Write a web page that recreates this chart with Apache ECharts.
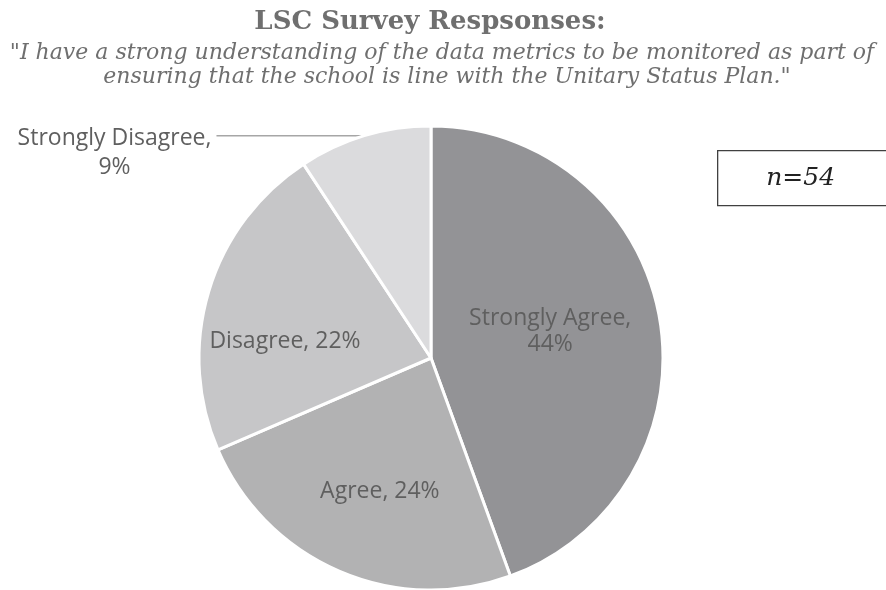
<!DOCTYPE html>
<html>
<head>
<meta charset="utf-8">
<title>LSC Survey Respsonses</title>
<script src="https://cdn.jsdelivr.net/npm/echarts@6/dist/echarts.min.js"></script>
<style>
  html, body { margin: 0; padding: 0; background: #ffffff; }
  #chart { width: 886px; height: 590px; }
</style>
</head>
<body>
<div id="chart"></div>
<script>
// Survey responses (n = 54)
const categories = ['Strongly Agree', 'Agree', 'Disagree', 'Strongly Disagree'];
const counts = [24, 13, 12, 5];
const sliceColors = ['#939396', '#b2b2b3', '#c6c6c8', '#dbdbdd'];

const titleText = 'LSC Survey Respsonses:';
const subtitleLines = [
  '"I have a strong understanding of the data metrics to be monitored as part of',
  'ensuring that the school is line with the Unitary Status Plan."'
];
const sampleNote = 'n=54';

const labelFont = '"Open Sans", "Noto Sans", sans-serif';
const serifFont = 'Georgia, "DejaVu Serif", serif';
const textGrey = '#6f6f6f';

const total = counts.reduce((a, b) => a + b, 0);
const pct = (v) => Math.round(v / total * 100) + '%';

// per-slice label placement tweaks
const labelOffsets = [[2, -6], [-4, 24], [-32, 18], [0, 0]];

const pieData = categories.map((name, i) => {
  const item = {
    name: name,
    value: counts[i],
    itemStyle: { color: sliceColors[i] }
  };
  if (i < 3) {
    item.label = {
      position: 'inside',
      offset: labelOffsets[i],
      formatter: (p) => i === 0 ? p.name + ',\n' + pct(p.value) : p.name + ', ' + pct(p.value)
    };
  } else {
    item.label = {
      position: 'outside',
      formatter: (p) => '{a|' + p.name + ',}\n{a|' + pct(p.value) + '}',
      rich: {
        a: { align: 'center', fontSize: 23, color: '#5f5f5f', fontFamily: labelFont, lineHeight: 29 }
      }
    };
    item.labelLine = {
      show: true,
      length: 0,
      length2: 148,
      lineStyle: { color: '#a6a6a6', width: 1.3 }
    };
  }
  return item;
});

const chart = echarts.init(document.getElementById('chart'));
chart.setOption({
  backgroundColor: '#ffffff',
  animation: false,
  series: [{
    type: 'pie',
    center: [431, 358],
    radius: 232,
    startAngle: 90,
    clockwise: true,
    avoidLabelOverlap: false,
    itemStyle: { borderColor: '#ffffff', borderWidth: 3 },
    label: {
      fontFamily: labelFont,
      fontSize: 23,
      color: '#5f5f5f',
      lineHeight: 26,
      align: 'center'
    },
    labelLayout: function (params) {
      if (params.dataIndex === 3) {
        return { dy: 17 };
      }
      return {};
    },
    emphasis: { disabled: true },
    data: pieData
  }],
  graphic: [{
    type: 'text',
    x: 430,
    y: 22,
    style: {
      text: titleText,
      fontFamily: serifFont,
      fontWeight: 'bold',
      fontSize: 26,
      fill: textGrey,
      align: 'center',
      verticalAlign: 'middle'
    }
  }, {
    type: 'text',
    x: 442,
    y: 53,
    style: {
      text: subtitleLines[0],
      fontFamily: serifFont,
      fontStyle: 'italic',
      fontSize: 22,
      fill: textGrey,
      align: 'center',
      verticalAlign: 'middle'
    }
  }, {
    type: 'text',
    x: 447,
    y: 77,
    style: {
      text: subtitleLines[1],
      fontFamily: serifFont,
      fontStyle: 'italic',
      fontSize: 22,
      fill: textGrey,
      align: 'center',
      verticalAlign: 'middle'
    }
  }, {
    type: 'group',
    left: 717,
    top: 150,
    children: [{
      type: 'rect',
      shape: { x: 0, y: 0, width: 176, height: 55 },
      style: { fill: '#ffffff', stroke: '#404040', lineWidth: 1.3 }
    }, {
      type: 'text',
      x: 83,
      y: 28,
      style: {
        text: sampleNote,
        fontFamily: serifFont,
        fontStyle: 'italic',
        fontSize: 25,
        fill: '#222222',
        align: 'center',
        verticalAlign: 'middle'
      }
    }]
  }]
});
</script>
</body>
</html>
